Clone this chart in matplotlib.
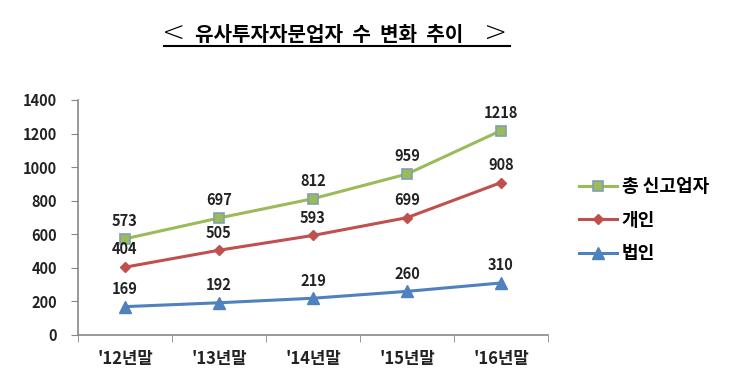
import matplotlib
matplotlib.use("Agg")
import matplotlib.pyplot as plt

plt.rcParams['font.family'] = ['Noto Sans CJK KR', 'DejaVu Sans']

categories = ["'12년말", "'13년말", "'14년말", "'15년말", "'16년말"]
total = [573, 697, 812, 959, 1218]
individual = [404, 505, 593, 699, 908]
corporate = [169, 192, 219, 260, 310]
series_names = ["총 신고업자", "개인", "법인"]
yticks = [0, 200, 400, 600, 800, 1000, 1200, 1400]

fig = plt.figure(figsize=(7.37, 3.88), dpi=100)
ax = fig.add_axes([0.1058, 0.1366, 0.6378, 0.6057])

x = list(range(len(categories)))
l1, = ax.plot(x, total, color='#9BBB59', lw=2.2, marker='s', ms=7,
              mfc='#9BBB59', mec='#7F9FB5', mew=1.2, label=series_names[0])
l2, = ax.plot(x, individual, color='#C0504D', lw=2.2, marker='D', ms=5.5,
              mfc='#C0504D', mec='#C0504D', label=series_names[1])
l3, = ax.plot(x, corporate, color='#4F81BD', lw=2.2, marker='^', ms=8,
              mfc='#4F81BD', mec='#4F81BD', label=series_names[2])

for ser in (total, individual, corporate):
    for xi, v in zip(x, ser):
        ax.annotate(str(v), (xi, v), xytext=(0, 7), textcoords='offset points',
                    ha='center', va='bottom', fontsize=10.5, fontweight='bold',
                    color='#222222')

ax.set_xlim(-0.5, 4.5)
ax.set_ylim(0, 1400)
ax.set_yticks(yticks)
ax.set_yticklabels([str(t) for t in yticks], fontsize=10.5, fontweight='bold', color='#222222')
ax.set_xticks(x)
ax.set_xticklabels(categories, fontsize=12, fontweight='bold', color='#222222')
ax.set_xticks([-0.5, 0.5, 1.5, 2.5, 3.5, 4.5], minor=True)
ax.tick_params(axis='x', which='major', length=0, pad=11)
ax.tick_params(axis='x', which='minor', length=5, color='#888888', direction='out')
ax.tick_params(axis='y', length=5, color='#888888', direction='out', pad=10)
for s in ('top', 'right'):
    ax.spines[s].set_visible(False)
for s in ('left', 'bottom'):
    ax.spines[s].set_color('#888888')
    ax.spines[s].set_linewidth(1.2)

leg = fig.legend(handles=[l1, l2, l3], loc='upper left', bbox_to_anchor=(0.764, 0.585),
                 frameon=False, labelspacing=0.8, handlelength=2.1, handletextpad=0.25,
                 prop={'weight': 'bold', 'size': 13})

fig.text(0.236, 0.912, "<", ha='center', va='center', fontsize=20, color='black',
         family='DejaVu Sans', fontweight='light')
fig.text(0.672, 0.912, ">", ha='center', va='center', fontsize=20, color='black',
         family='DejaVu Sans', fontweight='light')
fig.text(0.447, 0.912, "유사투자자문업자  수  변화  추이", ha='center', va='center',
         fontsize=14.5, fontweight='bold', color='black')
fig.add_artist(plt.Line2D([0.222, 0.692], [0.882, 0.882], color='black', lw=1.5,
                          transform=fig.transFigure))

fig.savefig('out.png', dpi=100)
